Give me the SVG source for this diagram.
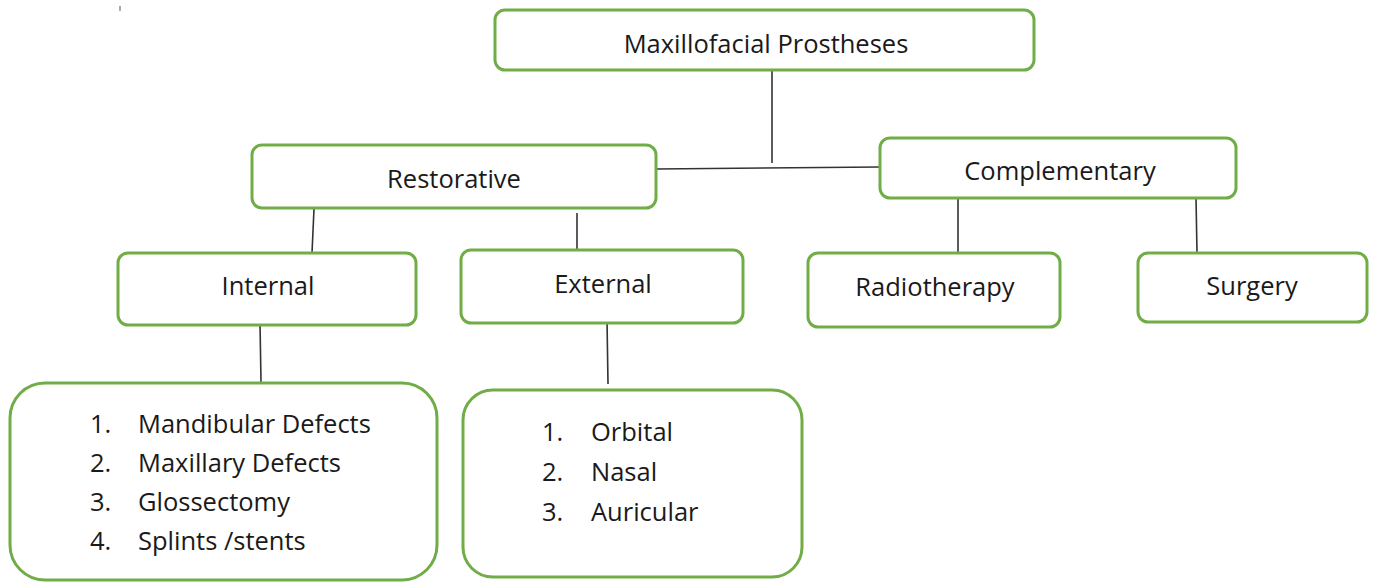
<svg xmlns="http://www.w3.org/2000/svg" width="1373" height="582" viewBox="0 0 1373 582">
<style>
.box{fill:#fff;stroke:#70AD47;stroke-width:3}
.t{font-family:"Open Sans","Noto Sans",sans-serif;font-size:25.5px;fill:#1a1a1a}
.c{stroke:#333;stroke-width:1.6;fill:none}
</style>
<rect width="1373" height="582" fill="#fff"/>
<line x1="120" y1="6" x2="120" y2="11" stroke="#555" stroke-width="1"/>
<g id="connectors">
<line class="c" x1="772" y1="71" x2="772" y2="163"/>
<line class="c" x1="656" y1="169" x2="880" y2="167"/>
<line class="c" x1="314" y1="209" x2="312" y2="253"/>
<line class="c" x1="577" y1="213" x2="577" y2="250"/>
<line class="c" x1="958" y1="199" x2="958" y2="253"/>
<line class="c" x1="1196" y1="197" x2="1197" y2="253"/>
<line class="c" x1="260" y1="323" x2="261" y2="382"/>
<line class="c" x1="607" y1="320" x2="608" y2="384"/>
</g>
<g id="root"><rect class="box" x="495" y="10" width="539" height="60" rx="10"/><text class="t" x="766" y="53" text-anchor="middle">Maxillofacial Prostheses</text></g>
<g id="restorative"><rect class="box" x="252" y="145" width="404" height="63" rx="10"/><text class="t" x="454" y="188" text-anchor="middle">Restorative</text></g>
<g id="complementary"><rect class="box" x="880" y="138" width="356" height="60" rx="10"/><text class="t" x="1060" y="180" text-anchor="middle">Complementary</text></g>
<g id="internal"><rect class="box" x="118" y="253" width="298" height="72" rx="10"/><text class="t" x="268" y="295" text-anchor="middle">Internal</text></g>
<g id="external"><rect class="box" x="461" y="250" width="282" height="73" rx="10"/><text class="t" x="603" y="293" text-anchor="middle">External</text></g>
<g id="radiotherapy"><rect class="box" x="808" y="253" width="252" height="74" rx="10"/><text class="t" x="935" y="296" text-anchor="middle">Radiotherapy</text></g>
<g id="surgery"><rect class="box" x="1138" y="253" width="229" height="69" rx="10"/><text class="t" x="1252" y="295" text-anchor="middle">Surgery</text></g>
<g id="internal-list"><rect class="box" x="10" y="383" width="427" height="197" rx="35"/>
<text class="t" x="90" y="433">1.</text><text class="t" x="138" y="433">Mandibular Defects</text>
<text class="t" x="90" y="472">2.</text><text class="t" x="138" y="472">Maxillary Defects</text>
<text class="t" x="90" y="511">3.</text><text class="t" x="138" y="511">Glossectomy</text>
<text class="t" x="90" y="550">4.</text><text class="t" x="138" y="550">Splints /stents</text>
</g>
<g id="external-list"><rect class="box" x="463" y="390" width="339" height="187" rx="30"/>
<text class="t" x="542" y="441">1.</text><text class="t" x="591" y="441">Orbital</text>
<text class="t" x="542" y="481">2.</text><text class="t" x="591" y="481">Nasal</text>
<text class="t" x="542" y="521">3.</text><text class="t" x="591" y="521">Auricular</text>
</g>
</svg>
